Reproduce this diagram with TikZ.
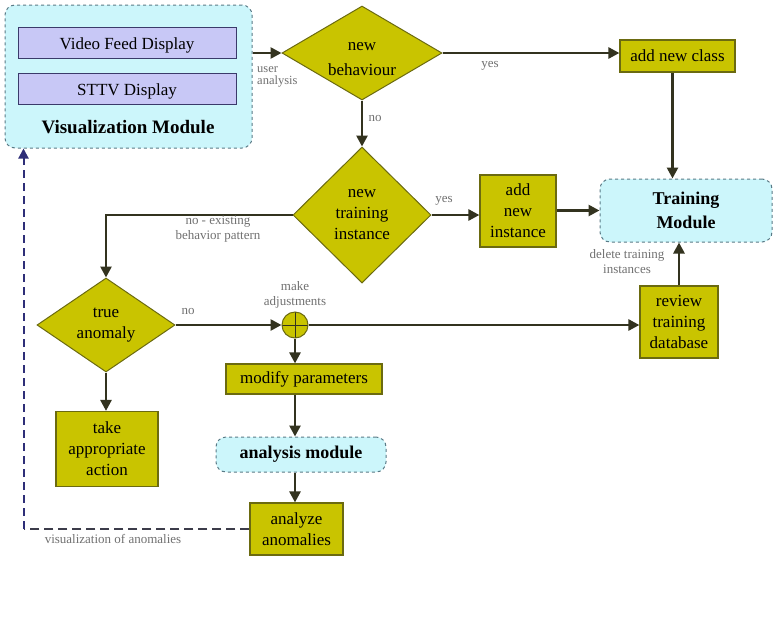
\documentclass[tikz,border=0pt]{standalone}
\usepackage{fontspec}
\setmainfont{Liberation Serif}
\usetikzlibrary{shapes.geometric,arrows.meta,calc}
\definecolor{olivefill}{HTML}{C9C400}
\definecolor{oliveline}{HTML}{6B6A10}
\definecolor{arrowc}{HTML}{33331F}
\definecolor{cyanfill}{HTML}{CCF6FB}
\definecolor{cyanline}{HTML}{5A7A86}
\definecolor{lavfill}{HTML}{C8C8F6}
\definecolor{lavline}{HTML}{3A3A6A}
\definecolor{labelc}{HTML}{707070}
\definecolor{navyc}{HTML}{2E2E78}
\definecolor{dashgray}{HTML}{3C3C4A}
\tikzset{
  proc/.style={rectangle, fill=olivefill, draw=oliveline, line width=1.2pt, align=center, inner sep=0pt, font=\fontsize{17}{21}\selectfont},
  dec/.style={diamond, fill=olivefill, draw=oliveline, line width=1pt, align=center, inner sep=0pt, font=\fontsize{17}{21}\selectfont},
  modbox/.style={rectangle, rounded corners=10pt, fill=cyanfill, draw=cyanline, dashed, line width=1pt, align=center, inner sep=0pt, font=\bfseries\fontsize{18}{24}\selectfont},
  dispbox/.style={rectangle, fill=lavfill, draw=lavline, line width=1pt, inner sep=0pt, font=\fontsize{17}{20}\selectfont},
  conn/.style={draw=arrowc, line width=2.6pt, -{Triangle[length=11pt,width=11pt]}},
  lbl/.style={text=labelc, font=\fontsize{13}{15}\selectfont, align=center, inner sep=0pt},
}
\begin{document}
\begin{tikzpicture}[x=1pt,y=-1pt]
\useasboundingbox (0,0) rectangle (779,630);
% Visualization module
\node[modbox, minimum width=247pt, minimum height=143pt] (vis) at (128.5,76.5) {};
\node[dispbox, minimum width=218pt, minimum height=31pt] (vfd) at (127,42.5) {\raisebox{-3pt}[\height][\depth]{Video Feed Display}};
\node[dispbox, minimum width=218pt, minimum height=31pt] (sttv) at (127,88.5) {\raisebox{-3pt}[\height][\depth]{STTV Display}};
\node[font=\bfseries\fontsize{19}{22}\selectfont, inner sep=0pt] (vist) at (128,127) {Visualization Module};
% decisions
\node[dec, minimum width=160pt, minimum height=94pt,
  label={[font=\fontsize{17}{25}\selectfont, align=center, yshift=-6pt]center:new\\behaviour}] (nb) at (362,53) {};
\node[dec, minimum width=138pt, minimum height=136pt] (nti) at (362,215) {new\\training\\instance};
\node[dec, minimum width=138pt, minimum height=94pt] (ta) at (106,325) {true\\anomaly};
% process boxes
\node[proc, minimum width=115pt, minimum height=32pt] (anc) at (677.5,56) {add new class};
\node[proc, minimum width=76pt, minimum height=72pt] (ani) at (518,211) {add\\new\\instance};
\node[modbox, minimum width=172pt, minimum height=63pt] (tm) at (686,210.5) {Training\\Module};
\node[proc, minimum width=78pt, minimum height=72pt] (rtd) at (679,322) {review\\training\\database};
\node[circle, fill=olivefill, draw=oliveline, line width=1pt, minimum size=26pt, inner sep=0pt,
  path picture={\draw[arrowc, line width=1pt] (path picture bounding box.north) -- (path picture bounding box.south)
  (path picture bounding box.west) -- (path picture bounding box.east);}] (plus) at (295,325) {};
\node[proc, minimum width=156pt, minimum height=30pt] (mp) at (304,379) {modify parameters};
\node[modbox, minimum width=170pt, minimum height=35pt] (am) at (301,454.5) {analysis module};
\node[proc, minimum width=93pt, minimum height=52pt] (aa) at (296.5,529) {analyze\\anomalies};
\node[proc, minimum width=102pt, minimum height=75pt] (taa) at (107,449) {take\\appropriate\\action};
% connectors
\draw[conn] (vis.east |- nb.west) -- (nb.west);
\draw[conn] (nb.east) -- (nb.east -| anc.west);
\draw[conn] ([xshift=-5pt]anc.south) -- ([xshift=-5pt]anc.south |- tm.north);
\draw[conn] (nb.south) -- (nti.north);
\draw[conn] (nti.east) -- (nti.east -| ani.west);
\draw[conn] (ani.east |- tm.west) -- (tm.west);
\draw[conn] (nti.west) -| (ta.north);
\draw[conn] (ta.east) -- (plus.west);
\draw[conn] (plus.east) -- (plus.east -| rtd.west);
\draw[conn] (rtd.north) -- (rtd.north |- tm.south);
\draw[conn] (plus.south) -- (plus.south |- mp.north);
\draw[conn] (plus.south |- mp.south) -- (plus.south |- am.north);
\draw[conn] (plus.south |- am.south) -- (plus.south |- aa.north);
\draw[conn] (ta.south) -- (ta.south |- taa.north);
\draw[dashgray, line width=2pt, dash pattern=on 9pt off 5pt] (aa.west) -- ([xshift=19pt]vis.south west |- aa.west) coordinate (corner);
\draw[navyc, line width=2pt, dash pattern=on 8pt off 5pt, -{Triangle[length=10pt,width=10pt]}] (corner) -- ([xshift=19pt]vis.south west);
% labels
\node[lbl, align=left, anchor=north west, font=\fontsize{12.5}{12.5}\selectfont] (l1) at (257,66) {user\\analysis};
\node[lbl] (l2) at (490,66) {yes};
\node[lbl] (l3) at (375,118) {no};
\node[lbl] (l4) at (444,201) {yes};
\node[lbl, anchor=north] (l5) at (218,216) {no - existing\\behavior pattern};
\node[lbl] (l6) at (188,311) {no};
\node[lbl] (l7) at (295,295) {make\\adjustments};
\node[lbl] (l8) at (627,262) {delete training\\instances};
\node[lbl] (l9) at (113,539) {visualization of anomalies};
\end{tikzpicture}
\end{document}
